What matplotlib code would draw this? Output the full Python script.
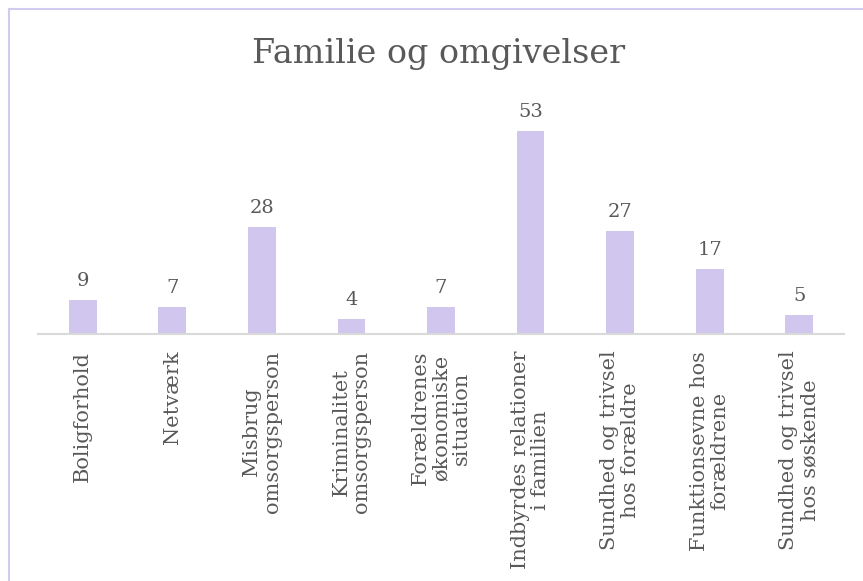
import matplotlib.pyplot as plt
from matplotlib.lines import Line2D

categories = [
    "Boligforhold",
    "Netværk",
    "Misbrug\nomsorgsperson",
    "Kriminalitet\nomsorgsperson",
    "Forældrenes\nøkonomiske\nsituation",
    "Indbyrdes relationer\ni familien",
    "Sundhed og trivsel\nhos forældre",
    "Funktionsevne hos\nforældrene",
    "Sundhed og trivsel\nhos søskende",
]
values = [9, 7, 28, 4, 7, 53, 27, 17, 5]

bar_color = "#d0c6ee"
text_color = "#595959"
plt.rcParams['font.family'] = ['DejaVu Serif']

W, H = 863, 581
fig = plt.figure(figsize=(W / 100, H / 100), dpi=100)

# axes placed in pixel terms: baseline at y=334, x from 38 to 844
left, right, bottom, top = 38, 844, 334, 104
ax = fig.add_axes([left / W, 1 - bottom / H, (right - left) / W, (bottom - top) / H])

x = list(range(len(categories)))
bars = ax.bar(x, values, width=0.31, color=bar_color)
ax.bar_label(bars, padding=7, fontsize=14, color=text_color)

ax.set_xlim(-0.5, len(categories) - 0.5)
ax.set_ylim(0, 60)
ax.set_yticks([])
ax.set_xticks(x)
ax.set_xticklabels(categories, rotation=90, fontsize=15, color=text_color,
                   multialignment="center", linespacing=1.1)
ax.tick_params(axis="x", length=0, pad=12)
for s in ["top", "left", "right"]:
    ax.spines[s].set_visible(False)
ax.spines["bottom"].set_color("#d9d9d9")
ax.spines["bottom"].set_linewidth(1.5)

fig.text(439 / W, 1 - 54 / H, "Familie og omgivelser", ha="center", va="center",
         fontsize=24, color=text_color)

# chart frame (only top and left edges visible)
frame = "#d3cbef"
fig.add_artist(Line2D([8.5 / W, 1], [1 - 9 / H, 1 - 9 / H], color=frame, lw=1.5))
fig.add_artist(Line2D([8.5 / W, 8.5 / W], [0, 1 - 9 / H], color=frame, lw=1.5))

fig.savefig("out.png", dpi=100)
